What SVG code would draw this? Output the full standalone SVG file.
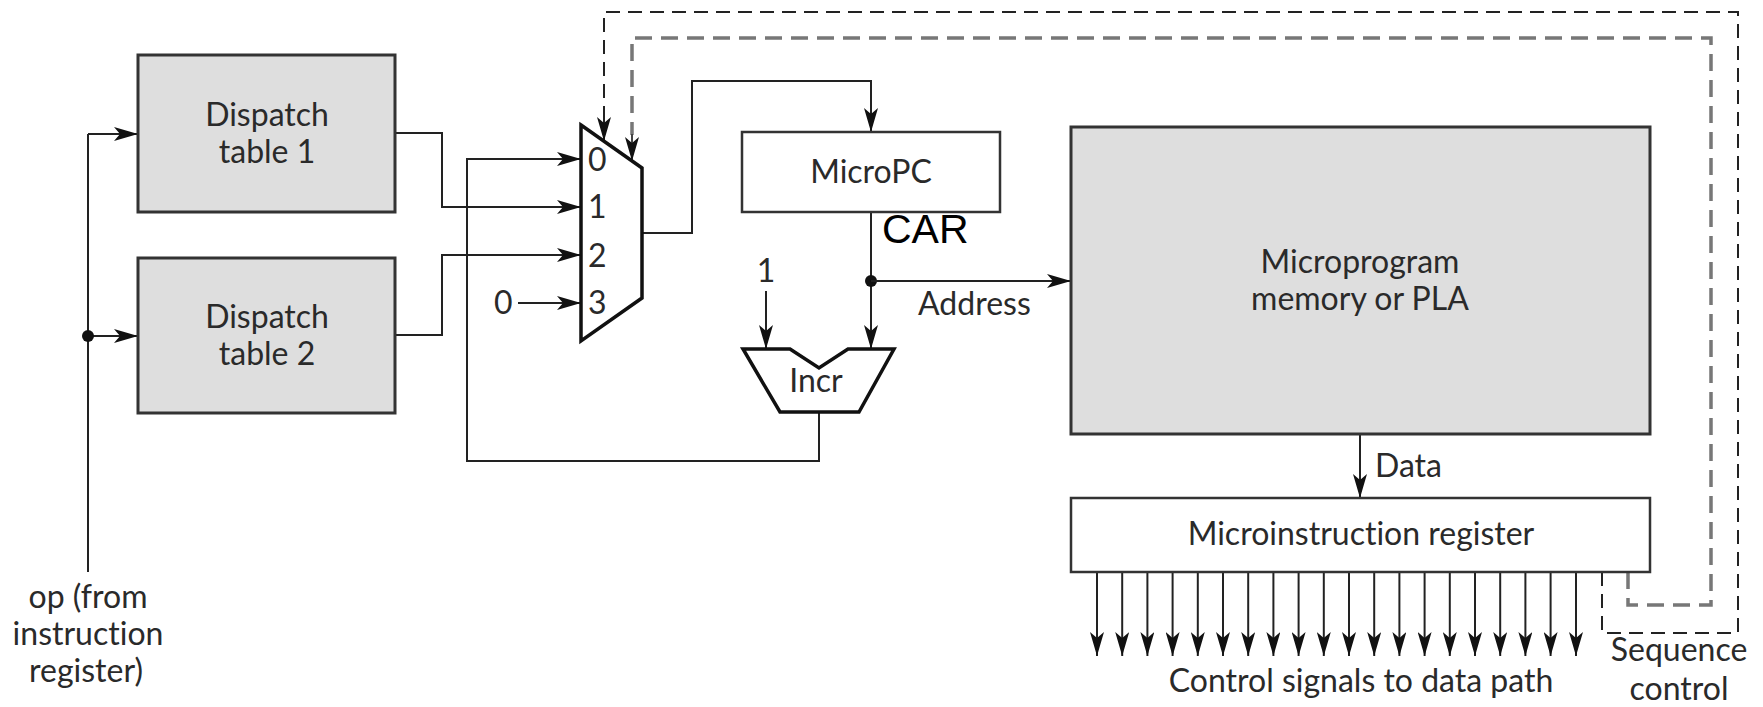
<svg xmlns="http://www.w3.org/2000/svg" width="1763" height="707" viewBox="0 0 1763 707">
<defs>
<marker id="ah" markerUnits="userSpaceOnUse" markerWidth="24" markerHeight="14" refX="24" refY="7" orient="auto">
<path d="M0,0 L24,7 L0,14 L6,7 z" fill="#111"/>
</marker>
<style>
.t{font-family:Lato,"Open Sans","Liberation Sans",sans-serif;fill:#2a2a2a;font-size:32px;font-variant-ligatures:none}
.box{fill:#dedede;stroke:#333;stroke-width:3}
.wbox{fill:#fff;stroke:#333;stroke-width:2.5}
.w{fill:none;stroke:#222;stroke-width:2}
.wa{fill:none;stroke:#222;stroke-width:2;marker-end:url(#ah)}
.dk{fill:none;stroke:#222;stroke-width:2;stroke-dasharray:14 8}
.dg{fill:none;stroke:#777;stroke-width:3.5;stroke-dasharray:17 9}
</style>
</defs>
<rect width="1763" height="707" fill="#fff"/>

<g id="connectors">
<path class="w" d="M88,572 V134"/>
<path class="wa" d="M88,134 H138"/>
<path class="wa" d="M88,336 H138"/>
<circle cx="88" cy="336" r="6" fill="#111"/>
<path class="wa" d="M395,133 H442 V207 H581"/>
<path class="wa" d="M395,335 H442 V255 H581"/>
<path class="wa" d="M819,412 V461 H467 V159 H581"/>
<path class="wa" d="M518,303 H581"/>
<path class="wa" d="M642,233 H692 V81 H871 V132"/>
<path class="wa" d="M871,212 V349"/>
<circle cx="871" cy="281" r="6" fill="#111"/>
<path class="wa" d="M871,281 H1071"/>
<path class="wa" d="M766,291 V349"/>
<path class="wa" d="M1360,434 V498"/>
<g>
<path class="wa" d="M1097,572 V656"/>
<path class="wa" d="M1122.2,572 V656"/>
<path class="wa" d="M1147.4,572 V656"/>
<path class="wa" d="M1172.6,572 V656"/>
<path class="wa" d="M1197.8,572 V656"/>
<path class="wa" d="M1223,572 V656"/>
<path class="wa" d="M1248.2,572 V656"/>
<path class="wa" d="M1273.4,572 V656"/>
<path class="wa" d="M1298.6,572 V656"/>
<path class="wa" d="M1323.8,572 V656"/>
<path class="wa" d="M1349,572 V656"/>
<path class="wa" d="M1374.2,572 V656"/>
<path class="wa" d="M1399.4,572 V656"/>
<path class="wa" d="M1424.6,572 V656"/>
<path class="wa" d="M1449.8,572 V656"/>
<path class="wa" d="M1475,572 V656"/>
<path class="wa" d="M1500.2,572 V656"/>
<path class="wa" d="M1525.4,572 V656"/>
<path class="wa" d="M1550.6,572 V656"/>
<path class="wa" d="M1576,572 V656"/>
</g>
<path class="dk" d="M1602,572 V633 H1738 V12 H604 V118"/>
<path d="M604,116 L604,141" stroke="#222" stroke-width="2" marker-end="url(#ah)"/>
<path class="dg" d="M1628,572 V605 H1711 V38 H632 V135"/>
<path d="M632,134 L632,161" stroke="#444" stroke-width="2" marker-end="url(#ah)"/>
</g>

<g id="dispatch1">
<rect class="box" x="138" y="55" width="257" height="157"/>
<text class="t" x="267" y="126" text-anchor="middle" font-size="35">Dispatch</text>
<text class="t" x="267" y="163" text-anchor="middle" font-size="35">table 1</text>
</g>
<g id="dispatch2">
<rect class="box" x="138" y="258" width="257" height="155"/>
<text class="t" x="267" y="328" text-anchor="middle" font-size="35">Dispatch</text>
<text class="t" x="267" y="365" text-anchor="middle" font-size="35">table 2</text>
</g>
<g id="mux">
<path d="M581,125 L642,168 L642,298 L581,341 Z" fill="#fff" stroke="#111" stroke-width="3.5"/>
<text class="t" x="588" y="171" font-size="31">0</text>
<text class="t" x="588" y="218" font-size="31">1</text>
<text class="t" x="588" y="267" font-size="31">2</text>
<text class="t" x="588" y="314" font-size="31">3</text>
</g>
<g id="const0">
<text class="t" x="494" y="314" font-size="31">0</text>
</g>
<g id="micropc">
<rect class="wbox" x="742" y="132" width="258" height="80"/>
<text class="t" x="871" y="183" text-anchor="middle">MicroPC</text>
</g>
<g id="car">
<text x="882" y="243" font-family="'Liberation Sans',Arial,sans-serif" font-size="41" fill="#000">CAR</text>
</g>
<g id="const1">
<text class="t" x="766" y="282" text-anchor="middle" font-size="31">1</text>
</g>
<g id="incr">
<path d="M743,349 L790,349 L819,368 L848,349 L894,349 L859,412 L780,412 Z" fill="#fff" stroke="#111" stroke-width="3.5"/>
<text class="t" x="816" y="392" text-anchor="middle" font-size="33">Incr</text>
</g>
<g id="address-label">
<text class="t" x="918" y="315">Address</text>
</g>
<g id="memory">
<rect class="box" x="1071" y="127" width="579" height="307"/>
<text class="t" x="1360" y="273" text-anchor="middle">Microprogram</text>
<text class="t" x="1360" y="310" text-anchor="middle">memory or PLA</text>
</g>
<g id="data-label">
<text class="t" x="1375" y="477">Data</text>
</g>
<g id="mir">
<rect class="wbox" x="1071" y="498" width="579" height="74" stroke-width="3"/>
<text class="t" x="1361" y="545" text-anchor="middle">Microinstruction register</text>
</g>
<g id="control-label">
<text class="t" x="1361" y="692" text-anchor="middle">Control signals to data path</text>
</g>
<g id="sequence-label">
<text class="t" x="1679" y="661" text-anchor="middle" font-size="31">Sequence</text>
<text class="t" x="1679" y="700" text-anchor="middle" font-size="31">control</text>
</g>
<g id="op-label">
<text class="t" x="88" y="608" text-anchor="middle">op (from</text>
<text class="t" x="88" y="645" text-anchor="middle">instruction</text>
<text class="t" x="86" y="682" text-anchor="middle">register)</text>
</g>
</svg>
